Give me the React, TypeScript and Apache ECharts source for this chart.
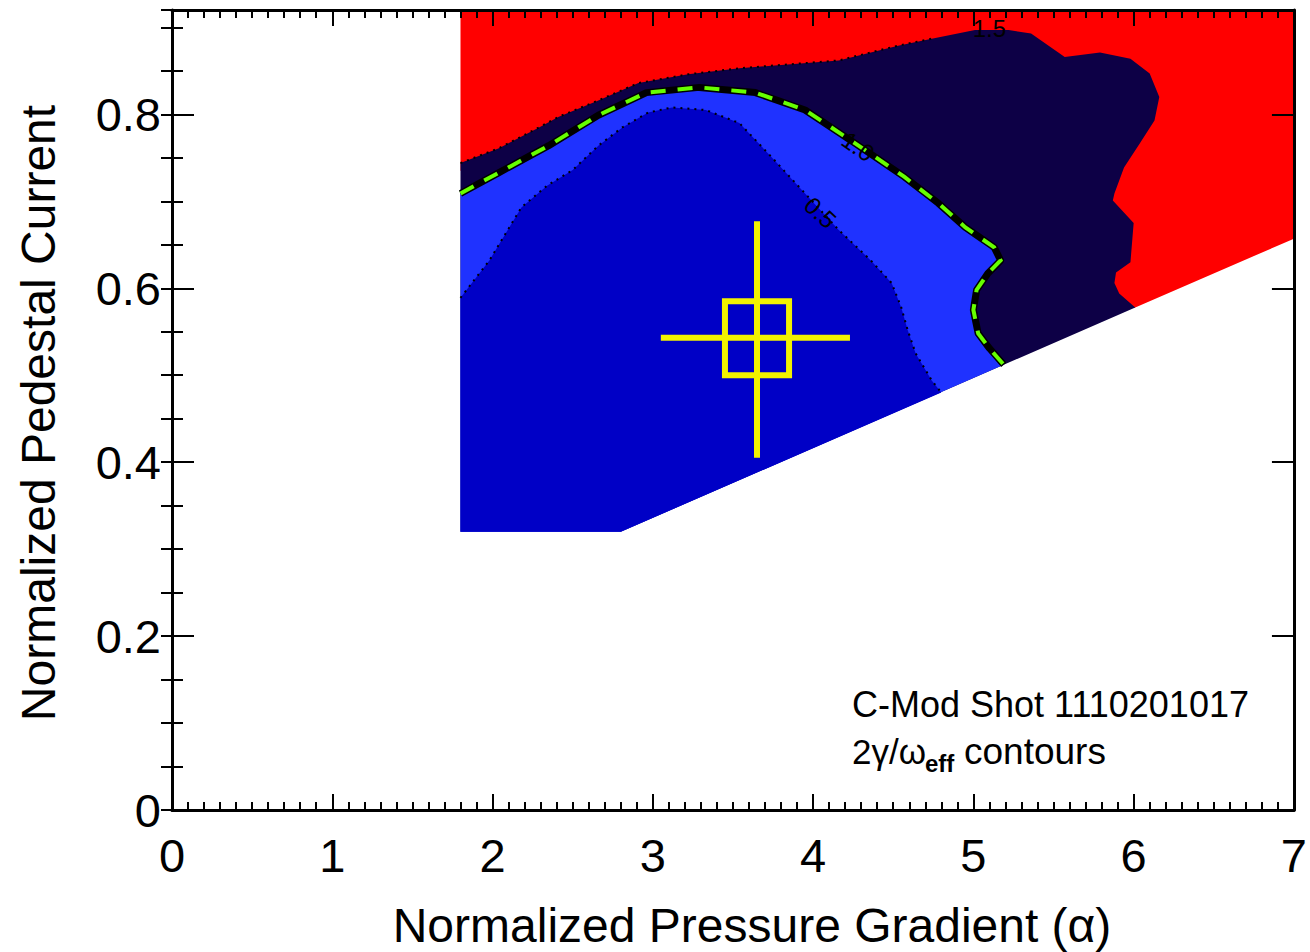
import React, { useEffect, useRef } from "react";
import * as echarts from "echarts";

// ---- data ----
const xTicks = [0, 1, 2, 3, 4, 5, 6, 7];
const yTickLabels = ["0", "0.2", "0.4", "0.6", "0.8"];
const xRange = [0, 7];
const yRange = [0, 0.92];
const RED = "#FF0000";
const NAVY = "#0D0046";
const LIGHT_BLUE = "#1F32FF";
const DARK_BLUE = "#0000C6";
const GREEN = "#66FF00";
const YELLOW = "#F2F200";

// region above the 1.5 contour (its lower edge is hidden under the navy layer)
const redRegion: number[][] = [
  [1.8, 0.92],
  [7.0, 0.92],
  [7.0, 0.657],
  [6.01, 0.578],
  [5.6, 0.57],
  [3.0, 0.6],
  [1.85, 0.6],
  [1.85, 0.735],
  [1.8, 0.735],
];
const baseCorners: number[][] = [
  [2.8, 0.32],
  [1.8, 0.32],
];

// contour level 1.5
const contour15: number[][] = [
  [1.8, 0.744], [2.04, 0.761], [2.29, 0.785], [2.41, 0.797], [2.66, 0.816],
  [2.91, 0.836], [3.22, 0.846], [3.54, 0.853], [4.16, 0.862], [4.53, 0.879],
  [4.74, 0.887], [5.01, 0.897], [5.22, 0.897], [5.36, 0.893], [5.57, 0.866],
  [5.79, 0.871], [5.98, 0.864], [6.1, 0.847], [6.16, 0.82], [6.13, 0.793],
  [6.04, 0.767], [5.94, 0.739], [5.88, 0.709], [5.87, 0.701], [6.0, 0.675],
  [5.98, 0.63], [5.89, 0.618], [5.88, 0.606], [5.91, 0.594], [6.01, 0.578],
];
// contour level 1.0
const contour10: number[][] = [
  [1.8, 0.709], [2.04, 0.733], [2.35, 0.764], [2.66, 0.799], [2.96, 0.825],
  [3.29, 0.831], [3.64, 0.825], [3.95, 0.805], [4.26, 0.767], [4.57, 0.728],
  [4.78, 0.698], [4.95, 0.67], [5.13, 0.647], [5.17, 0.632], [5.09, 0.617],
  [5.02, 0.598], [5.0, 0.575], [5.03, 0.548], [5.1, 0.531], [5.19, 0.512],
];
// contour level 0.5
const contour05: number[][] = [
  [1.8, 0.589], [1.98, 0.632], [2.18, 0.693], [2.34, 0.718], [2.5, 0.736],
  [2.66, 0.764], [2.81, 0.785], [2.97, 0.802], [3.12, 0.808], [3.33, 0.805],
  [3.54, 0.79], [3.74, 0.751], [3.95, 0.709], [4.16, 0.667], [4.36, 0.632],
  [4.49, 0.606], [4.55, 0.578], [4.59, 0.552], [4.64, 0.525], [4.74, 0.494],
  [4.8, 0.48],
];
const contourLabels = ["1.5", "1.0", "0.5"];
const contourLabelPos: number[][] = [
  [5.1, 0.899],
  [4.28, 0.763],
  [4.045, 0.687],
];
const contourLabelRot = [0, -0.6, -0.75];

// experimental point
const point = [3.65, 0.543];
const errX = [3.05, 4.23];
const errY = [0.405, 0.677];
const boxX = [3.45, 3.85];
const boxY = [0.5, 0.585];

export default function App() {
  const ref = useRef<HTMLDivElement>(null);
  useEffect(() => {
    if (!ref.current) return;
    const chart = echarts.init(ref.current, undefined, { renderer: "svg" });
    const FONT = "'Liberation Sans', Arial, Helvetica, sans-serif";

    const renderItem = (params: any, api: any) => {
      const pts = (arr: number[][]) => arr.map((p) => api.coord(p));
      const children: any[] = [];
      children.push({ type: "polygon", shape: { points: pts(redRegion) }, style: { fill: RED } });
      children.push({ type: "polygon", shape: { points: pts([...contour15, ...baseCorners]) }, style: { fill: NAVY } });
      children.push({ type: "polygon", shape: { points: pts([...contour10, ...baseCorners]) }, style: { fill: LIGHT_BLUE } });
      children.push({ type: "polygon", shape: { points: pts([...contour05, ...baseCorners]) }, style: { fill: DARK_BLUE } });
      // contour lines
      children.push({
        type: "polyline",
        shape: { points: pts(contour15.filter((p) => p[0] <= 5.0)) },
        style: { stroke: "#000", lineWidth: 2, lineDash: [2, 5], fill: null },
      });
      children.push({
        type: "polyline",
        shape: { points: pts(contour05) },
        style: { stroke: "#000", lineWidth: 2, lineDash: [2, 5], fill: null },
      });
      children.push({
        type: "polyline",
        shape: { points: pts(contour10) },
        style: { stroke: "#000", lineWidth: 7, fill: null, lineJoin: "round" },
      });
      children.push({
        type: "polyline",
        shape: { points: pts(contour10) },
        style: { stroke: GREEN, lineWidth: 4, lineDash: [15, 12], fill: null },
      });
      contourLabels.forEach((t, i) => {
        const c = api.coord(contourLabelPos[i]);
        children.push({
          type: "text",
          x: c[0],
          y: c[1],
          rotation: contourLabelRot[i],
          style: {
            text: t,
            fill: "#000",
            font: "24px 'Liberation Sans', Arial, sans-serif",
            fontSize: 24,
            fontFamily: "'Liberation Sans', Arial, sans-serif",
            align: "center",
            verticalAlign: "middle",
          },
        });
      });
      // yellow marker
      const ys = { stroke: YELLOW, lineWidth: 6, fill: null };
      const hl = [api.coord([errX[0], point[1]]), api.coord([errX[1], point[1]])];
      const vl = [api.coord([point[0], errY[0]]), api.coord([point[0], errY[1]])];
      children.push({ type: "polyline", shape: { points: hl }, style: ys });
      children.push({ type: "polyline", shape: { points: vl }, style: ys });
      children.push({
        type: "polygon",
        shape: {
          points: pts([
            [boxX[0], boxY[0]],
            [boxX[1], boxY[0]],
            [boxX[1], boxY[1]],
            [boxX[0], boxY[1]],
          ]),
        },
        style: { stroke: YELLOW, lineWidth: 6, fill: null },
      });
      return { type: "group", children };
    };

    const common = {
      type: "value",
      min: xRange[0],
      max: xRange[1],
      interval: 1,
      z: 5,
      splitLine: { show: false },
      axisLine: { show: true, onZero: false, lineStyle: { color: "#000", width: 3 } },
      axisTick: { show: true, inside: true, length: 16, lineStyle: { color: "#000", width: 2 } },
      minorTick: { show: true, splitNumber: 10, length: 8, lineStyle: { color: "#000", width: 2 } },
    };
    const yMajor = {
      type: "value",
      min: yRange[0],
      max: yRange[1],
      interval: 0.2,
      z: 5,
      splitLine: { show: false },
      axisLine: { show: true, onZero: false, lineStyle: { color: "#000", width: 3 } },
      axisTick: { show: true, inside: true, length: 22, lineStyle: { color: "#000", width: 2 } },
    };
    const yMinor = {
      type: "value",
      min: yRange[0],
      max: yRange[1],
      interval: 0.05,
      z: 5,
      splitLine: { show: false },
      axisLine: { show: false },
      axisLabel: { show: false },
      axisTick: { show: true, inside: true, length: 11, lineStyle: { color: "#000", width: 2 } },
    };

    chart.setOption({
      animation: false,
      backgroundColor: "#fff",
      grid: { left: 172, right: 13, top: 10, bottom: 142 },
      xAxis: [
        {
          ...common,
          position: "bottom",
          axisLabel: {
            show: true,
            margin: 22,
            color: "#000",
            fontSize: 47,
            fontFamily: FONT,
            formatter: (v: number) => (xTicks.includes(v) ? String(v) : ""),
          },
        },
        { ...common, position: "top", axisLabel: { show: false } },
      ],
      yAxis: [
        {
          ...yMajor,
          position: "left",
          axisLabel: {
            show: true,
            margin: 11,
            color: "#000",
            fontSize: 47,
            fontFamily: FONT,
            showMaxLabel: false,
            formatter: (v: number) => {
              const i = Math.round(v / 0.2);
              return Math.abs(v - i * 0.2) < 1e-6 && i < yTickLabels.length ? yTickLabels[i] : "";
            },
          },
        },
        { ...yMinor, position: "left" },
        { ...yMajor, position: "right", axisLabel: { show: false } },
        { ...yMinor, position: "right" },
      ],
      series: [
        {
          type: "custom",
          coordinateSystem: "cartesian2d",
          xAxisIndex: 0,
          yAxisIndex: 0,
          z: 1,
          clip: true,
          silent: true,
          data: [[0, 0]],
          renderItem,
        },
      ],
      graphic: [
        {
          type: "text",
          x: 752,
          y: 925,
          z: 10,
          style: { text: "Normalized Pressure Gradient (α)", fontSize: 48, fontFamily: FONT, fill: "#000", align: "center", verticalAlign: "middle" },
        },
        {
          type: "text",
          x: 38,
          y: 413,
          rotation: Math.PI / 2,
          z: 10,
          style: { text: "Normalized Pedestal Current", fontSize: 48, fontFamily: FONT, fill: "#000", align: "center", verticalAlign: "middle" },
        },
        {
          type: "text",
          x: 852,
          y: 704,
          z: 10,
          style: { text: "C-Mod Shot 1110201017", fontSize: 36, fontFamily: FONT, fill: "#000", align: "left", verticalAlign: "middle" },
        },
        {
          type: "text",
          x: 852,
          y: 751,
          z: 10,
          style: { text: "2γ/ω", fontSize: 35, fontFamily: FONT, fill: "#000", align: "left", verticalAlign: "middle" },
        },
        {
          type: "text",
          x: 925,
          y: 763,
          z: 10,
          style: { text: "eff", fontSize: 24, fontWeight: "bold", fontFamily: FONT, fill: "#000", align: "left", verticalAlign: "middle" },
        },
        {
          type: "text",
          x: 964,
          y: 751,
          z: 10,
          style: { text: "contours", fontSize: 37, fontFamily: FONT, fill: "#000", align: "left", verticalAlign: "middle" },
        },
      ],
    });
    return () => chart.dispose();
  }, []);
  return (
    <div
      ref={ref}
      style={{ position: "absolute", left: 0, top: 0, width: 1310, height: 952 }}
    />
  );
}
